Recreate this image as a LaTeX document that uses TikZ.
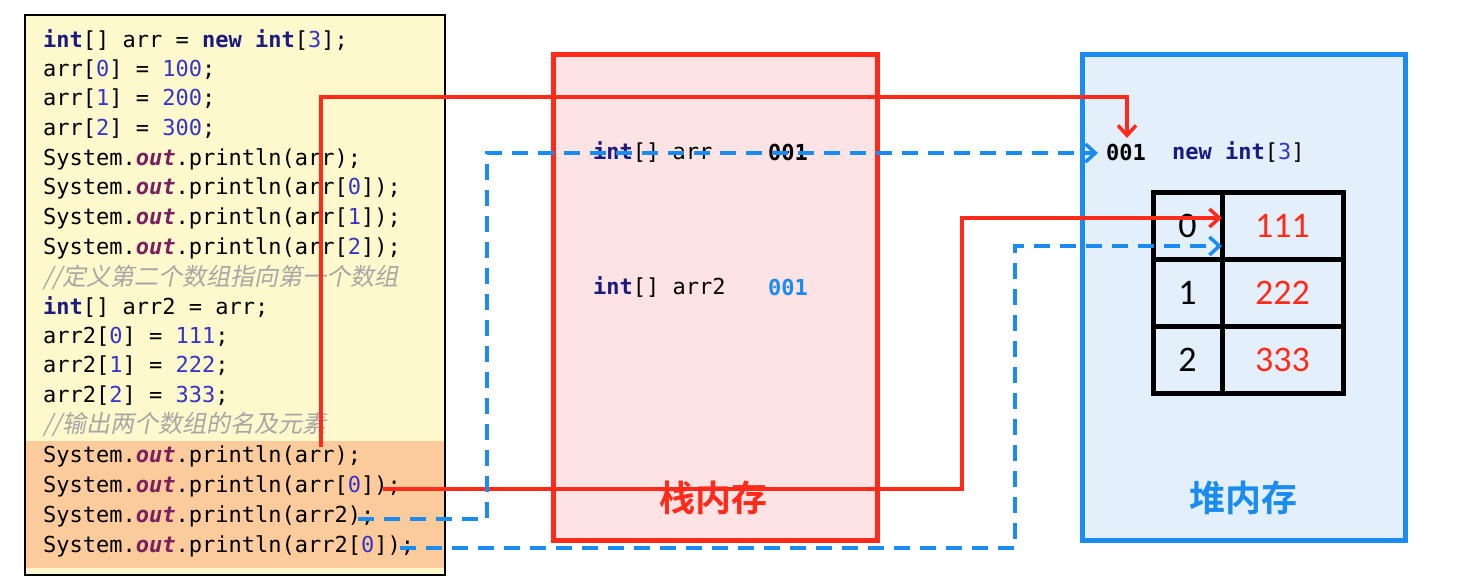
\documentclass[tikz,border=0pt]{standalone}
\usepackage{fontspec}
\setmonofont{DejaVu Sans Mono}
\setsansfont{Carlito}
\newfontfamily\cjk[FakeSlant=0.2]{Noto Sans CJK SC}
\newfontfamily\cjkbold{Noto Sans CJK SC Bold}
\usetikzlibrary{positioning,arrows.meta}
\definecolor{kwcol}{HTML}{1A1A80}
\definecolor{numcol}{HTML}{3535C8}
\definecolor{outcol}{HTML}{7A1F5F}
\definecolor{codebg}{HTML}{FDF9CC}
\definecolor{hlbg}{HTML}{FCCB9C}
\definecolor{stackred}{HTML}{FF2A1A}
\definecolor{stackbg}{HTML}{FDE3E3}
\definecolor{heapblue}{HTML}{1A8CF0}
\definecolor{heapbg}{HTML}{E3EFFB}
\newcommand{\kw}[1]{\textbf{\textcolor{kwcol}{#1}}}
\newcommand{\nm}[1]{\textcolor{numcol}{#1}}
\newcommand{\ot}[1]{\textbf{\textit{\textcolor{outcol}{#1}}}}
\tikzset{
  code/.style={anchor=west,inner sep=0pt,font=\ttfamily\fontsize{22}{24}\selectfont},
  cmt/.style={anchor=west,inner sep=0pt,text=black!35,font=\cjk\fontsize{24}{26}\selectfont},
  cell/.style={draw=black,line width=5pt,minimum height=67pt,inner sep=0pt,font=\sffamily\fontsize{36}{38}\selectfont},
  redline/.style={draw=stackred,line width=3.5pt,-{Straight Barb[length=10pt,width=18pt]}},
  blueline/.style={draw=heapblue,line width=3.5pt,dash pattern=on 16pt off 10pt,-{Straight Barb[length=10pt,width=18pt]}}
}
\begin{document}
\begin{tikzpicture}[x=1pt,y=-1pt]
\useasboundingbox (0,0) rectangle (1462,588);
% code panel
\filldraw[fill=codebg,draw=black,line width=2pt] (25,15) rectangle (445,575);
\fill[hlbg] (26,441) rectangle (444,568);
\node[code] (l1) at (43,40) {\kw{int}[] arr = \kw{new} \kw{int}[\nm{3}];};
\node[code] (l2) at (43,70) {arr[\nm{0}] = \nm{100};};
\node[code] (l3) at (43,99) {arr[\nm{1}] = \nm{200};};
\node[code] (l4) at (43,129) {arr[\nm{2}] = \nm{300};};
\node[code] (l5) at (43,159) {System.\ot{out}.println(arr);};
\node[code] (l6) at (43,188) {System.\ot{out}.println(arr[\nm{0}]);};
\node[code] (l7) at (43,218) {System.\ot{out}.println(arr[\nm{1}]);};
\node[code] (l8) at (43,248) {System.\ot{out}.println(arr[\nm{2}]);};
\node[cmt] (l9) at (43,277) {//定义第二个数组指向第一个数组};
\node[code] (l10) at (43,307) {\kw{int}[] arr2 = arr;};
\node[code] (l11) at (43,337) {arr2[\nm{0}] = \nm{111};};
\node[code] (l12) at (43,366) {arr2[\nm{1}] = \nm{222};};
\node[code] (l13) at (43,396) {arr2[\nm{2}] = \nm{333};};
\node[cmt] (l14) at (43,425) {//输出两个数组的名及元素};
\node[code] (l15) at (43,456) {System.\ot{out}.println(arr);};
\node[code] (l16) at (43,486) {System.\ot{out}.println(arr[\nm{0}]);};
\node[code] (l17) at (43,516) {System.\ot{out}.println(arr2);};
\node[code] (l18) at (43,546) {System.\ot{out}.println(arr2[\nm{0}]);};
% stack
\filldraw[fill=stackbg,draw=stackred,line width=5pt] (553,55) rectangle (877,540);
\node[text=stackred,font=\cjkbold\fontsize{36}{38}\selectfont] (stack) at (713,498) {栈内存};
\node[code] (sarr) at (593,152) {\kw{int}[] arr};
\node[code] (sval) at (768,152) {\textbf{001}};
\node[code] (sarr2) at (593,287) {\kw{int}[] arr2};
\node[code] (sval2) at (768,287) {\textbf{\textcolor{heapblue}{001}}};
% heap
\filldraw[fill=heapbg,draw=heapblue,line width=5pt] (1082,55) rectangle (1405,540);
\node[text=heapblue,font=\cjkbold\fontsize{36}{38}\selectfont] (heap) at (1243,498) {堆内存};
\node[code] (haddr) at (1106,152) {\textbf{001}};
\node[code] (hnew) at (1172,152) {\kw{new} \kw{int}[\nm{3}]};
\foreach \i/\v in {0/111,1/222,2/333}{
  \node[cell,minimum width=69pt] (idx\i) at (1187.5,226+67*\i) {\i};
  \node[cell,minimum width=121pt,text=stackred] (val\i) at (1282.5,226+67*\i) {\v};
}
% references
\coordinate (r1a) at (321,447);
\coordinate (r1b) at (1127,138);
\draw[redline] (r1a) |- (1127,97) -- (r1b);
\coordinate (r2a) at (383,489);
\coordinate (r2b) at (1222,218);
\draw[redline] (r2a) -- (962,489) |- (r2b);
\coordinate (b1a) at (358,519);
\coordinate (b1b) at (1098,153);
\draw[blueline] (b1a) -- (487,519) |- (b1b);
\coordinate (b2a) at (400,548);
\coordinate (b2b) at (1222,246);
\draw[blueline] (b2a) -- (1015,548) |- (b2b);
\end{tikzpicture}
\end{document}
